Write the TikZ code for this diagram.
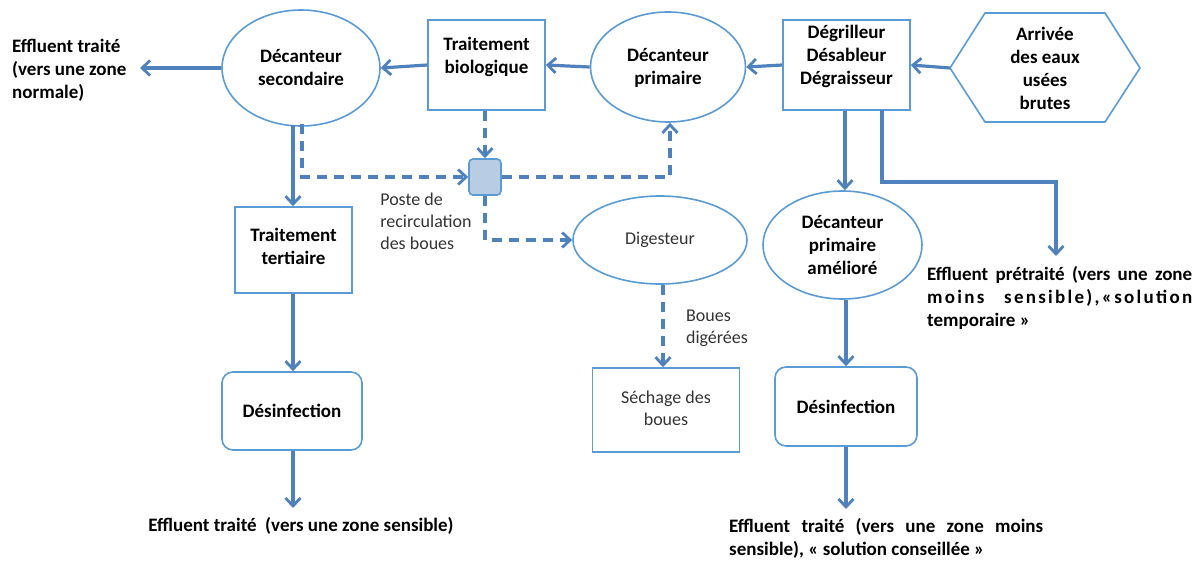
\documentclass[tikz,border=0pt]{standalone}
\usepackage{fontspec}
\setmainfont{Carlito}
\usetikzlibrary{arrows.meta,shapes.geometric}
\definecolor{lineblue}{HTML}{4F81BD}
\definecolor{boxblue}{HTML}{5B9BD5}
\definecolor{sqfill}{HTML}{B8CCE4}
\begin{document}
\begin{tikzpicture}[x=1pt,y=-1pt,
  txt/.style={font=\fontsize{19}{23}\selectfont\bfseries, text=black, align=center, inner sep=0pt},
  ltxt/.style={font=\fontsize{18}{22}\selectfont, text=black!80, align=left, inner sep=0pt},
  boxshape/.style={draw=boxblue, line width=1.6pt, inner sep=0pt},
  rectbox/.style={boxshape, rectangle},
  ellbox/.style={boxshape, ellipse},
  rbox/.style={boxshape, rectangle, rounded corners=11pt},
  flow/.style={draw=lineblue, line width=3.2pt, -{Straight Barb[length=8pt,width=15pt,line width=2.8pt]}},
  dflow/.style={flow, dash pattern=on 10pt off 7pt},
]
\useasboundingbox (0,0) rectangle (1203,562);

% top row
\node[txt, align=left, anchor=west] (eff1) at (12,70) {Effluent traité\\(vers une zone\\normale)};
\node[ellbox, minimum width=158, minimum height=116] (decsec) at (301,68) {};
\node[txt] at (301,68) {Décanteur\\secondaire};
\node[rectbox, minimum width=117, minimum height=90] (bio) at (486.5,65) {};
\node[txt] at (486.5,57) {Traitement\\biologique};
\node[ellbox, minimum width=155, minimum height=110] (decprim) at (668,67) {};
\node[txt] at (668,68) {Décanteur\\primaire};
\node[rectbox, minimum width=127, minimum height=90] (degr) at (846.5,65) {};
\node[txt] at (846.5,56) {Dégrilleur\\Désableur\\Dégraisseur};
\draw[boxblue, line width=1.6pt] (950,68) -- (985,13) -- (1105,13) -- (1140,68) -- (1105,122) -- (985,122) -- cycle;
\coordinate (hexL) at (950,68);
\node[txt] (arr) at (1045,68) {Arrivée\\des eaux\\usées\\brutes};

% recirculation
\node[boxshape, rectangle, rounded corners=4pt, fill=sqfill, minimum width=32, minimum height=36] (sq) at (485,177) {};
\node[ltxt] (poste) at (426,221) {Poste de\\recirculation\\des boues};

% left column
\node[rectbox, minimum width=117, minimum height=86] (tert) at (293.5,250) {};
\node[txt] at (293.5,246) {Traitement\\tertiaire};
\node[rbox, minimum width=140, minimum height=78] (des1) at (292,411) {};
\node[txt] at (292,411) {Désinfection};
\node[txt] (eff2) at (301,526) {Effluent traité\ \ (vers une zone sensible)};

% middle
\node[ellbox, minimum width=174, minimum height=88] (dig) at (660,240) {};
\node[ltxt] at (660,240) {Digesteur};
\node[ltxt] (bd) at (717,328) {Boues\\digérées};
\node[rectbox, minimum width=147, minimum height=84] (sech) at (666,410) {};
\node[ltxt, align=center] at (666,408) {Séchage des\\boues};

% right column
\node[ellbox, minimum width=159, minimum height=108] (dpa) at (842.5,245) {};
\node[txt] at (842.5,245) {Décanteur\\primaire\\amélioré};
\node[rbox, minimum width=142, minimum height=79] (des2) at (846,406.5) {};
\node[txt] at (846,406.5) {Désinfection};
\node[txt, align=left, anchor=north west] (eff3) at (927,266) {\makebox[265pt][s]{Effluent prétraité (vers une zone}\\\makebox[265pt][s]{\addfontfeature{LetterSpace=12}moins sensible),«solution}\\temporaire »};
\node[txt, align=left, anchor=north west] (eff4) at (729,518) {\makebox[314pt][s]{Effluent traité (vers une zone moins}\\sensible), « solution conseillée »};
\coordinate (pre) at (1056,256);
\coordinate (eff2top) at (293,508);
\coordinate (eff4top) at (846,509);

% main flow
\draw[flow] (hexL) -- (degr.east);
\draw[flow] (degr.west) -- (decprim.east);
\draw[flow] (decprim.west) -- (bio.east);
\draw[flow] (bio.west) -- (decsec.east);
\draw[flow] (decsec.west) -- (140,68);
\draw[flow] (293,125) -- (tert.north -| 293,0);
\draw[flow] (tert.south -| 293,0) -- (des1.north -| 293,0);
\draw[flow] (des1.south -| 293,0) -- (eff2top);
\draw[flow] (degr.south -| 845,0) -- (dpa.north -| 845,0);
\draw[flow] (882,110) -- (882,182) -- (1056,182) -- (pre);
\draw[flow] (dpa.south -| 846,0) -- (des2.north);
\draw[flow] (des2.south) -- (eff4top);

% dashed sludge flows
\draw[dflow] (bio.south -| sq.north) -- (sq.north);
\draw[dflow] (302,124) -- (302,177) -- (sq.west);
\draw[dflow] (sq.east) -- (670,177) -- (decprim.south -| 670,0);
\draw[dflow] (sq.south) -- (485,240) -- (dig.west);
\draw[dflow] (dig.south -| 663,0) -- (sech.north -| 663,0);
\end{tikzpicture}
\end{document}
